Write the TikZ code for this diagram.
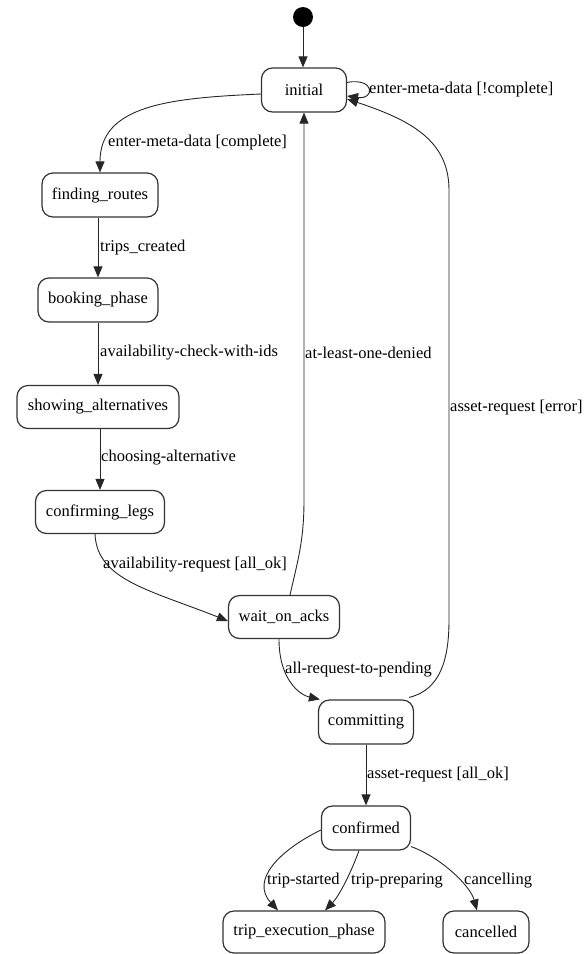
\documentclass[tikz,border=0pt]{standalone}
\usepackage{fontspec}
\setmainfont{Liberation Serif}
\usetikzlibrary{arrows.meta}
\begin{document}
\begin{tikzpicture}[x=1pt,y=-1pt,
  state/.style={draw=black!80, line width=1.2pt, rounded corners=11pt,
    inner sep=0pt, minimum height=44pt, font=\fontsize{16.5}{19}\selectfont, fill=white},
  lbl/.style={anchor=west, inner sep=0pt, font=\fontsize{16.5}{19}\selectfont},
  edge/.style={draw=black!85, line width=0.9pt, -{Triangle[length=11pt,width=9pt]}}]
\useasboundingbox (0,0) rectangle (588,954);

% states
\node[circle, fill=black, minimum size=20pt, inner sep=0pt] (start) at (303,17) {};
\node[state, minimum width=85pt]  (initial)  at (304,90)  {initial};
\node[state, minimum width=116pt] (finding)  at (100,195) {finding\_routes};
\node[state, minimum width=120pt] (booking)  at (98,300)  {booking\_phase};
\node[state, minimum width=162pt, minimum height=43pt] (showing) at (98,407) {showing\_alternatives};
\node[state, minimum width=129pt, minimum height=43pt] (legs) at (100,512) {confirming\_legs};
\node[state, minimum width=111pt, minimum height=43pt] (wait) at (284,617) {wait\_on\_acks};
\node[state, minimum width=95pt]  (committing) at (366,722) {committing};
\node[state, minimum width=89pt]  (confirmed)  at (366,828) {confirmed};
\node[state, minimum width=162pt, minimum height=42pt] (tripexec) at (304,932) {trip\_execution\_phase};
\node[state, minimum width=86pt, minimum height=42pt]  (cancelled) at (486,932) {cancelled};

% transition labels
\node[lbl] (l1)  at (369,90)  {enter-meta-data [!complete]};
\node[lbl] (l2)  at (108,143) {enter-meta-data [complete]};
\node[lbl] (l3)  at (100,248) {trips\_created};
\node[lbl] (l4)  at (100,353) {availability-check-with-ids};
\node[lbl] (l5)  at (101,458) {choosing-alternative};
\node[lbl] (l6)  at (103,565) {availability-request [all\_ok]};
\node[lbl] (l7)  at (305,353) {at-least-one-denied};
\node[lbl] (l8)  at (285,670) {all-request-to-pending};
\node[lbl] (l9)  at (450,408) {asset-request [error]};
\node[lbl] (l10) at (367,775) {asset-request [all\_ok]};
\node[lbl] (l11) at (267,881) {trip-started};
\node[lbl] (l12) at (351,881) {trip-preparing};
\node[lbl] (l13) at (464,881) {cancelling};

% transitions
\draw[edge] (start) -- (initial.north -| start);
\draw[edge] (initial.north east) ++(0,15) coordinate (s1)
  .. controls +(28,-5) and +(28,4) .. ([yshift=-6pt]initial.east);
\draw[edge] ([yshift=-4pt]initial.west) .. controls (170,98) and (100,105) .. (finding.north);
\draw[edge] (finding.south -| 98,0) -- (booking.north -| 98,0);
\draw[edge] (booking.south -| 98,0) -- (showing.north -| 98,0);
\draw[edge] (showing.south -| 100,0) -- (legs.north -| 100,0);
\draw[edge] (legs.south -| 95,0) .. controls (97,580) and (150,590) .. ([yshift=-4pt]wait.west);
\draw[edge] (wait.north -| 290,0) .. controls (298,560) and (304,540) .. (304,500) -- (initial.south);
\draw[edge] (wait.south -| 279,0) .. controls (279,680) and (300,695) .. ([xshift=2pt]committing.north west);
\draw[edge] ([xshift=-5pt,yshift=2pt]committing.north east) .. controls (440,690) and (449,660) .. (449,620)
  -- (449,190) .. controls (449,140) and (410,120) .. ([yshift=-9pt]initial.east);
\draw[edge] (committing) -- (confirmed);
\draw[edge] ([yshift=-2pt]confirmed.west) .. controls (280,850) and (250,880) .. (tripexec.north -| 278,0);
\draw[edge] (confirmed.south -| 359,0) .. controls (352,870) and (340,895) .. (tripexec.north -| 325,0);
\draw[edge] ([yshift=4pt]confirmed.south east) .. controls (440,857) and (470,885) .. (cancelled.north -| 477,0);
\end{tikzpicture}
\end{document}
